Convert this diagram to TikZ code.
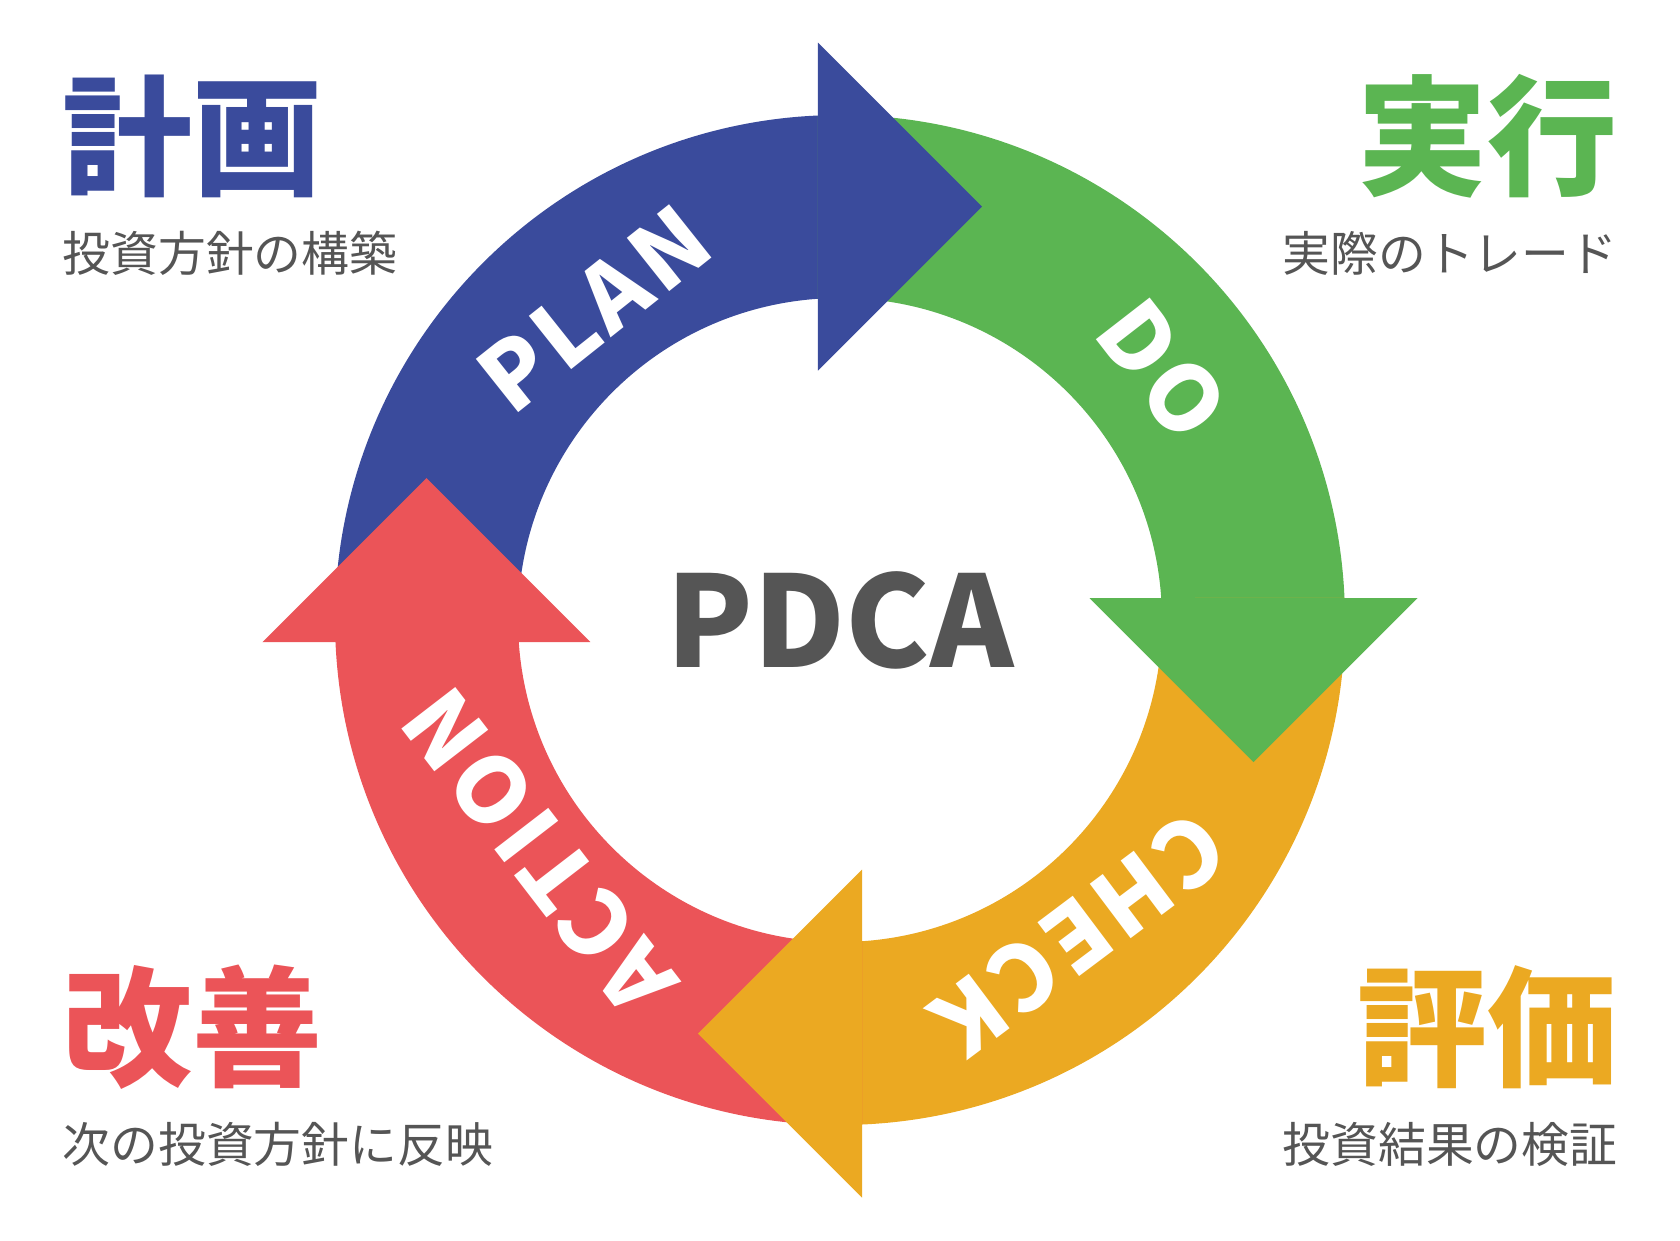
\documentclass[tikz,border=0pt]{standalone}
\usepackage{fontspec}
\setmainfont{Noto Sans CJK JP}
\newfontfamily\ringfont{Noto Sans CJK JP}[LetterSpace=6]
\usetikzlibrary{positioning}
\definecolor{planblue}{HTML}{3A4B9C}
\definecolor{dogreen}{HTML}{5BB552}
\definecolor{checkyellow}{HTML}{EBA922}
\definecolor{actred}{HTML}{EB5458}
\definecolor{textgray}{HTML}{555555}
\tikzstyle{title} =
  [font=\fontsize{37}{40}\selectfont\bfseries, inner sep=0pt]
\tikzstyle{subtitle} =
  [text=textgray, font=\fontsize{13.6}{16}\selectfont, inner sep=0pt]
\tikzstyle{ringlabel} =
  [text=white, font=\fontsize{26}{30}\selectfont\ringfont\bfseries, inner sep=0pt]
\tikzstyle{center} =
  [text=textgray, font=\fontsize{36}{40}\selectfont\bfseries, inner sep=0pt]
\newcommand{\ringbody}[2]{%
  \fill [#1, rotate=#2] (182.5:5.05) arc [start angle=182.5, end angle=92.5, radius=5.05]
    -- (93.92:3.22) arc [start angle=93.92, end angle=183.92, radius=3.22] -- cycle;}
\newcommand{\ringhead}[2]{%
  \fill [#1, rotate=#2] (-0.22,2.495) -- (-0.22,5.775) -- (1.42,4.135) -- cycle;}

\begin{document}
\begin{tikzpicture}
  \useasboundingbox (-8.4,-6.2) rectangle (8.4,6.2);

  \ringbody{planblue}{0}
  \ringbody{dogreen}{-90}
  \ringbody{checkyellow}{-180}
  \ringbody{actred}{-270}
  \ringhead{planblue}{0}
  \ringhead{dogreen}{-90}
  \ringhead{checkyellow}{-180}
  \ringhead{actred}{-270}

  \node [ringlabel, rotate=38.5] (plan) at (128.3:3.97) {PLAN};
  \node [ringlabel, rotate=-52.2] (do) at (37.8:4.08) {DO};
  \node [ringlabel, rotate=-143.1] (check) at (-52.8:3.95) {CHECK};
  \node [ringlabel, rotate=127.6] (action) at (217.6:3.8) {ACTION};
  \node [center] (pdca) at (0,0) {PDCA};

  \node [title, text=planblue, anchor=west] (plant) at (-7.78,4.84) {計画};
  \node [subtitle, anchor=west] (plans) at (-7.78,3.67) {投資方針の構築};
  \node [title, text=dogreen, anchor=east] (dot) at (7.78,4.84) {実行};
  \node [subtitle, anchor=east] (dos) at (7.78,3.67) {実際のトレード};
  \node [title, text=actred, anchor=west] (actiont) at (-7.78,-4.07) {改善};
  \node [subtitle, anchor=west] (actions) at (-7.78,-5.24) {次の投資方針に反映};
  \node [title, text=checkyellow, anchor=east] (checkt) at (7.78,-4.07) {評価};
  \node [subtitle, anchor=east] (checks) at (7.78,-5.24) {投資結果の検証};
\end{tikzpicture}
\end{document}
